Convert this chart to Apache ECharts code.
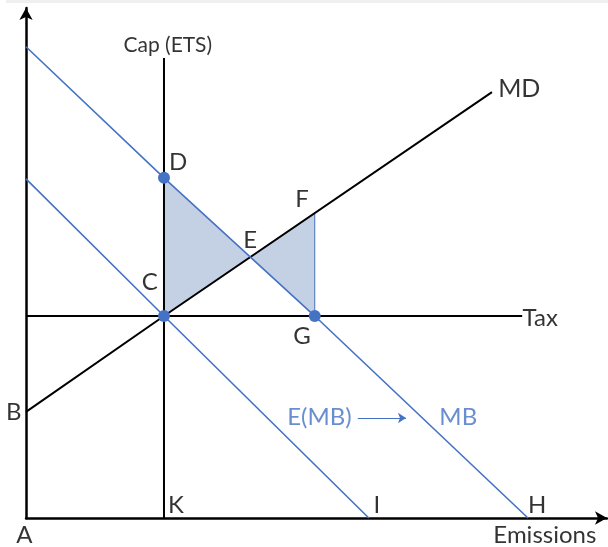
<!DOCTYPE html>
<html lang="en">
<head>
    <meta charset="UTF-8">
    <script type="text/javascript" src="https://cdn.jsdelivr.net/npm/echarts@6/dist/echarts.min.js"></script>
    <style>
        html, body { margin: 0; padding: 0; background: #fff; }
    </style>
</head>
<body>
    <div id="main" style="height: 547px;width: 608px"></div>
    <script type="text/javascript">
        // curves (x = emissions, y = price)
        var mdLine = [[0, 20.8], [23.75, 39.6], [80.2, 83.5]];
        var mbLine = [[0, 92.4], [23.75, 66.7], [49.7, 39.6], [86.4, 0]];
        var embLine = [[0, 66.5], [23.75, 39.6], [59, 0]];
        var capLine = [[23.75, 0], [23.75, 90.2]];
        var taxLine = [[0, 39.6], [85.4, 39.6]];
        var fgLine = [[49.7, 59.7], [49.7, 39.6]];

        // shaded triangles D-C-E and E-F-G
        var shadeAreas = [
            [[23.75, 66.7], [23.75, 39.6], [38.5, 51.1]],
            [[38.5, 51.1], [49.7, 59.7], [49.7, 39.6]]
        ];

        // dots D, C, G
        var dots = [[23.75, 66.7], [23.75, 39.6], [49.7, 39.6]];

        // text labels: text, x, y, font size
        var blackLabels = [
            ['Cap (ETS)', 24.4, 92.7, 21],
            ['D', 26.2, 69.8, 24],
            ['F', 47.5, 62.4, 24],
            ['E', 38.6, 54.5, 24],
            ['C', 21.3, 46.3, 24],
            ['G', 47.5, 35.7, 24],
            ['B', -2.1, 20.8, 24],
            ['K', 25.8, 2.4, 24],
            ['A', -0.3, -3.3, 24],
            ['I', 60.4, 2.4, 24],
            ['H', 88, 2.4, 24],
            ['Emissions', 89.3, -3.3, 24],
            ['MD', 84.9, 84.1, 25],
            ['Tax', 88.5, 39.2, 24]
        ];
        var blueLabels = [
            ['E(MB)', 50.5, 19.8, 24],
            ['MB', 74.4, 19.8, 24]
        ];
        var shiftArrow = [[57.1, 19.6], [65.4, 19.6]];

        var BLUE = '#4472c4';

        function labelSeries(list, color) {
            return {
                type: 'scatter',
                symbolSize: 0,
                clip: false,
                silent: true,
                z: 5,
                data: list.map(function (l) {
                    return {
                        value: [l[1], l[2]],
                        label: {
                            show: true,
                            position: 'inside',
                            formatter: l[0],
                            fontSize: l[3],
                            color: color,
                            fontFamily: 'Lato'
                        }
                    };
                })
            };
        }

        function lineSeries(pts, color, width) {
            return {
                type: 'line',
                data: pts,
                symbol: 'none',
                silent: true,
                clip: false,
                lineStyle: { color: color, width: width }
            };
        }

        var myChart = echarts.init(document.getElementById('main'));
        var option = {
            animation: false,
            grid: { left: 26, top: 8, right: 1, bottom: 29 },
            graphic: [{
                type: 'rect',
                shape: { x: 6, y: 0, width: 602, height: 3 },
                style: { fill: '#efefef' }
            }],
            xAxis: {
                type: 'value', min: 0, max: 100,
                splitLine: { show: false }, axisTick: { show: false }, axisLabel: { show: false },
                axisLine: { lineStyle: { color: '#000', width: 2.5 }, symbol: ['none', 'arrow'], symbolSize: [10, 12] }
            },
            yAxis: {
                type: 'value', min: 0, max: 100,
                splitLine: { show: false }, axisTick: { show: false }, axisLabel: { show: false },
                axisLine: { lineStyle: { color: '#000', width: 2.5 }, symbol: ['none', 'arrow'], symbolSize: [10, 12] }
            },
            series: [
                {
                    type: 'custom',
                    silent: true,
                    data: shadeAreas.map(function (a) { return a[0]; }),
                    renderItem: function (params, api) {
                        var pts = shadeAreas[params.dataIndex].map(function (p) { return api.coord(p); });
                        return { type: 'polygon', shape: { points: pts }, style: { fill: '#c4d1e4' } };
                    }
                },
                lineSeries(fgLine, BLUE, 1),
                lineSeries(capLine, '#000', 2),
                lineSeries(taxLine, '#000', 2),
                lineSeries(mdLine, '#000', 2),
                lineSeries(mbLine, BLUE, 1.6),
                lineSeries(embLine, BLUE, 1.6),
                {
                    type: 'lines',
                    coordinateSystem: 'cartesian2d',
                    silent: true,
                    symbol: ['none', 'arrow'],
                    symbolSize: 8,
                    lineStyle: { color: BLUE, width: 1.2, opacity: 1 },
                    data: [{ coords: shiftArrow }]
                },
                {
                    type: 'scatter',
                    silent: true,
                    z: 4,
                    symbolSize: 12,
                    itemStyle: { color: BLUE, opacity: 1 },
                    data: dots
                },
                labelSeries(blackLabels, '#000'),
                labelSeries(blueLabels, BLUE)
            ]
        };
        myChart.setOption(option);
    </script>
</body>
</html>
